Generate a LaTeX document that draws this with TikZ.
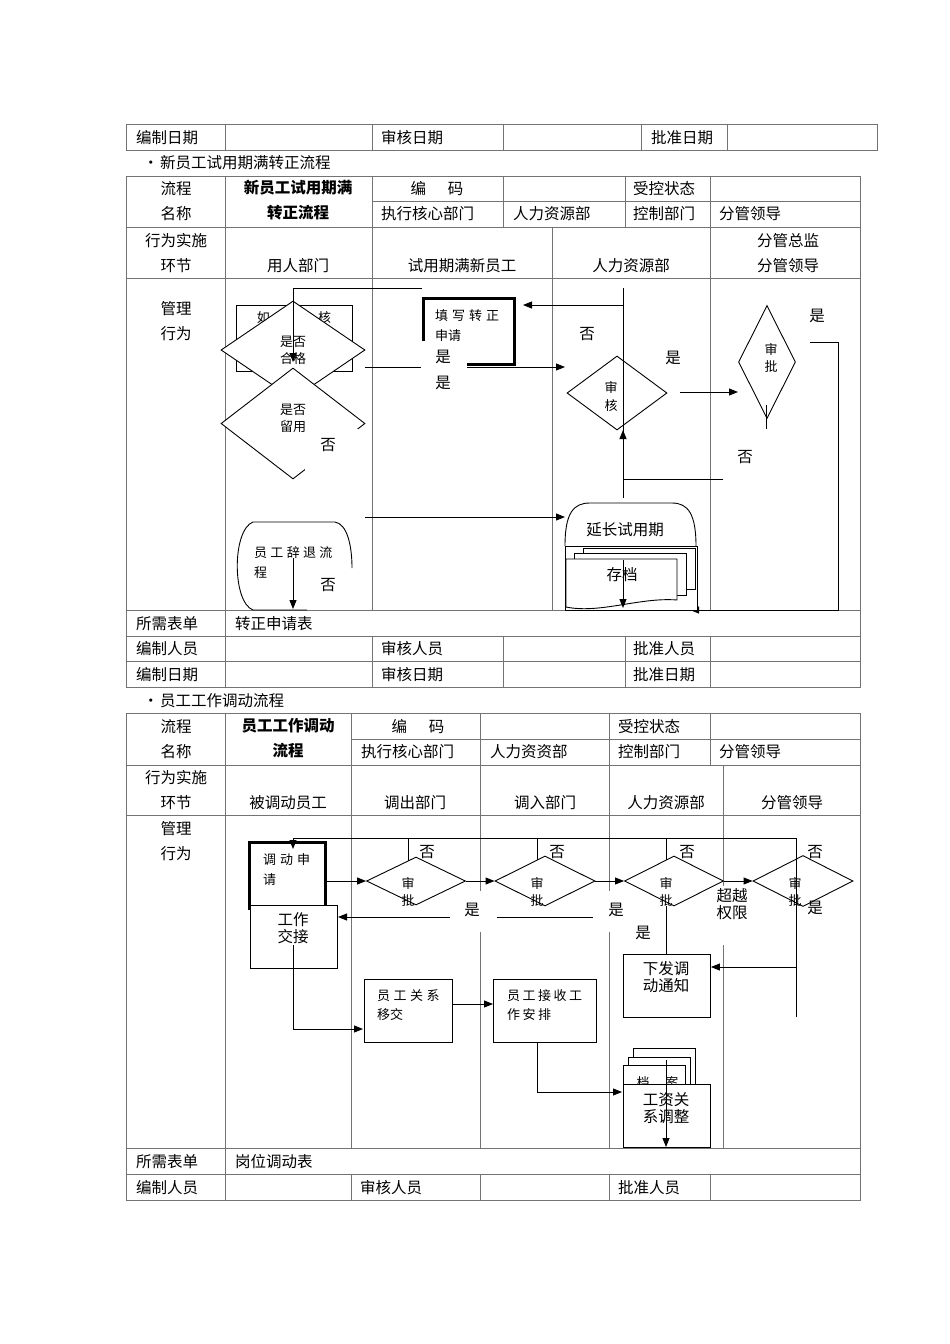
\documentclass[tikz,border=0pt]{standalone}
\usepackage{fontspec}
\setmainfont{Noto Sans CJK SC}
\usetikzlibrary{shapes.geometric,arrows.meta}
\newcommand{\gsp}{\hspace{4pt}}
\tikzset{
 tl/.style={draw=black!55, line width=0.9pt},
 fl/.style={draw=black, line width=0.9pt},
 ar/.style={fl, -{Triangle[length=9pt,width=7pt]}},
 tx/.style={font=\fontsize{15.5}{18}\selectfont, inner sep=0pt, align=center},
 txl/.style={tx, anchor=west},
 bt/.style={font=\fontsize{15.5}{25}\selectfont\bfseries, inner sep=0pt, align=center},
 sm/.style={font=\fontsize{13}{17}\selectfont, inner sep=0pt, align=center},
 sml/.style={sm, anchor=west},
 md/.style={font=\fontsize{15.5}{17}\selectfont, inner sep=0pt, align=center},
 dia/.style={diamond, draw, fill=white, line width=0.9pt, inner sep=0pt},
 box/.style={draw, fill=white, line width=0.9pt, inner sep=0pt, anchor=north west},
}
\begin{document}
\begin{tikzpicture}[x=1pt,y=-1pt]
\useasboundingbox[fill=white] (0,0) rectangle (950,1344);

% ---------- top table ----------
\draw[tl] (126,124) rectangle (877,150);
\foreach \x in {225,372,503,641,727} \draw[tl] (\x,124)--(\x,150);
\node[txl] (a1) at (136,137.5) {编制日期};
\node[txl] (a2) at (381,137.5) {审核日期};
\node[txl] (a3) at (651,137.5) {批准日期};

\node[txl] (b1) at (143,162.5) {•\hspace{1.5pt}新员工试用期满转正流程};

% ---------- table 1 ----------
\draw[tl] (126,176) rectangle (860,687);
\draw[tl] (372,201)--(860,201);
\foreach \y in {227,278,610,636,661} \draw[tl] (126,\y)--(860,\y);
\draw[tl] (225,176)--(225,687);
\foreach \x in {372,503,625,710} {\draw[tl] (\x,176)--(\x,227); \draw[tl] (\x,636)--(\x,687);}
\foreach \x in {372,552,710} \draw[tl] (\x,227)--(\x,610);

\node[tx] (h1) at (176,188.5) {流程};
\node[tx] (h2) at (176,213.5) {名称};
\node[bt] (h3) at (298,200.5) {新员工试用期满\\转正流程};
\node[tx] (h4) at (437,188.5) {编\hspace{22pt}码};
\node[txl] (h5) at (381,213.5) {执行核心部门};
\node[txl] (h6) at (513,213.5) {人力资源部};
\node[txl] (h7) at (633,188.5) {受控状态};
\node[txl] (h8) at (633,213.5) {控制部门};
\node[txl] (h9) at (719,213.5) {分管领导};
\node[tx] (r1) at (176,240.5) {行为实施};
\node[tx] (r2) at (176,265.5) {环节};
\node[tx] (r3) at (298,265.5) {用人部门};
\node[tx] (r4) at (462,265.5) {试用期满新员工};
\node[tx] (r5) at (631,265.5) {人力资源部};
\node[tx] (r6) at (788,240.5) {分管总监};
\node[tx] (r7) at (788,265.5) {分管领导};
\node[tx] (g1) at (176,308.5) {管理};
\node[tx] (g2) at (176,333.5) {行为};
\node[txl] (f1) at (136,623.5) {所需表单};
\node[txl] (f2) at (235,623.5) {转正申请表};
\node[txl] (f3) at (136,648.5) {编制人员};
\node[txl] (f4) at (381,648.5) {审核人员};
\node[txl] (f5) at (633,648.5) {批准人员};
\node[txl] (f6) at (136,674.5) {编制日期};
\node[txl] (f7) at (381,674.5) {审核日期};
\node[txl] (f8) at (633,674.5) {批准日期};

% ---------- flowchart 1 ----------
\node[box, minimum width=116, minimum height=66] (kh) at (236,305) {};
\node[sm] (khT) at (294,318) {如\hspace{7.5pt}期\hspace{7.5pt}考\hspace{7.5pt}核};
\node[dia, minimum width=144, minimum height=98] (d1) at (293,350) {};
\node[sm] (d1T) at (293,350) {是否\\合格};
\node[dia, minimum width=144, minimum height=111] (d2) at (293,423.5) {};
\node[sm] (d2T) at (293,418) {是否\\留用};
\coordinate (c1) at (422,288);
\draw[ar] (c1) -- (293,288) -- (293,362);

\node[draw, line width=3.2pt, minimum width=91, minimum height=66, inner sep=0pt, anchor=north west] (tz) at (421.5,297) {};
\node[sml] (tzT1) at (435,316) {填\gsp 写\gsp 转\gsp 正};
\node[sml] (tzT2) at (435,336) {申请};
\draw[ar] (365,367) -- (565,367);
\fill[white] (421,341) rectangle (467,375);
\node[md] (y1) at (443,357) {是};
\node[md] (y2) at (443,383) {是};

\node[dia, minimum width=100, minimum height=74] (sh) at (617,393) {};
\node[font=\fontsize{13}{18}\selectfont, inner sep=0pt, align=center] (shT) at (611,397) {审\\核};
\draw[fl] (623,288) -- (623,498);
\draw[ar] (623,305) -- (523,305);
\draw[ar] (723,479) -- (623,479) -- (623,430);
\draw[ar] (680,392) -- (738,392);
\node[dia, minimum width=57, minimum height=113] (sp) at (767,362) {};
\node[sm] (spT) at (771,358) {审\\批};
\draw[fl] (766,405) -- (766,429);
\draw[ar] (810,342) -- (838,342) -- (838,610) -- (690,610);
\node[md] (n1) at (587,334) {否};
\node[md] (y3) at (673,358) {是};
\node[md] (y4) at (817,316) {是};
\node[md] (n2) at (745,457) {否};

% extend probation
\draw[fl, fill=white] (565,546) .. controls (565,512) and (574,503) .. (590,503) -- (672,503) .. controls (688,503) and (696,514) .. (696,546);
\node[md] (yc) at (625,530) {延长试用期};
\draw[ar] (365,517) -- (565,517);
% archive stack
\draw[fl, fill=white] (565,546) rectangle (697,610);
\draw[fl, fill=white] (583,548) rectangle (695,589);
\draw[fl, fill=white] (574,553) rectangle (686,595);
\draw[fl, fill=white] (566,559) -- (677,559) -- (677,600) .. controls (640,597) and (600,614) .. (566,607) -- cycle;
\node[md] (cd) at (622,575) {存档};
\draw[ar] (623,560) -- (623,608);

% dismissal
\draw[fl] (307,610) -- (253,610) .. controls (232,602) and (232,530) .. (253,522) -- (335,522) .. controls (347,524) and (352,545) .. (352,568);
\node[sml] (ct1) at (254,553) {员\hspace{3.3pt}工\hspace{3.3pt}辞\hspace{3.3pt}退\hspace{3.3pt}流};
\node[sml] (ct2) at (254,573) {程};
\draw[ar] (293,558) -- (293,609);
\node[md] (n3) at (328,585) {否};
\fill[white] (305,429) rectangle (358,470);
\node[md] (n4) at (328,445) {否};

% ---------- bullet 2 ----------
\node[txl] (b2) at (143,700.5) {•\hspace{1.5pt}员工工作调动流程};

% ---------- table 2 ----------
\draw[tl] (126,713) rectangle (860,1200);
\draw[tl] (351,739)--(860,739);
\foreach \y in {765,815,1148,1174} \draw[tl] (126,\y)--(860,\y);
\draw[tl] (225,713)--(225,1200);
\foreach \x in {351,480,609,710} {\draw[tl] (\x,713)--(\x,765); \draw[tl] (\x,1174)--(\x,1200);}
\foreach \x in {351,480,609,723} \draw[tl] (\x,765)--(\x,1148);

\node[tx] (k1) at (176,726.5) {流程};
\node[tx] (k2) at (176,751.5) {名称};
\node[bt] (k3) at (288,738.5) {员工工作调动\\流程};
\node[tx] (k4) at (418,726.5) {编\hspace{22pt}码};
\node[txl] (k5) at (361,751.5) {执行核心部门};
\node[txl] (k6) at (490,751.5) {人力资资部};
\node[txl] (k7) at (618,726.5) {受控状态};
\node[txl] (k8) at (618,751.5) {控制部门};
\node[txl] (k9) at (719,751.5) {分管领导};
\node[tx] (s1) at (176,777.5) {行为实施};
\node[tx] (s2) at (176,802.5) {环节};
\node[tx] (s3) at (288,802.5) {被调动员工};
\node[tx] (s4) at (415,802.5) {调出部门};
\node[tx] (s5) at (545,802.5) {调入部门};
\node[tx] (s6) at (666,802.5) {人力资源部};
\node[tx] (s7) at (792,802.5) {分管领导};
\node[tx] (m1) at (176,828.5) {管理};
\node[tx] (m2) at (176,853.5) {行为};
\node[txl] (e1) at (136,1161.5) {所需表单};
\node[txl] (e2) at (235,1161.5) {岗位调动表};
\node[txl] (e3) at (136,1187.5) {编制人员};
\node[txl] (e4) at (360,1187.5) {审核人员};
\node[txl] (e5) at (618,1187.5) {批准人员};

% ---------- flowchart 2 ----------
\node[draw, line width=3pt, minimum width=76, minimum height=66, inner sep=0pt, anchor=north west] (dd) at (248,841) {};
\node[sml] (ddT1) at (263,860) {调\gsp 动\gsp 申};
\node[sml] (ddT2) at (263,880) {请};
\node[box, minimum width=87, minimum height=63] (gj) at (250,905) {};
\node[md] (gjT) at (293,928) {工作\\交接};

\node[dia, minimum width=99, minimum height=48] (D1) at (416,881) {};
\node[dia, minimum width=100, minimum height=50] (D2) at (545,881) {};
\node[dia, minimum width=99, minimum height=50] (D3) at (674,881) {};
\node[dia, minimum width=100, minimum height=51] (D4) at (803,881) {};
\node[sm] (D1T) at (408,892) {审\\批};
\node[sm] (D2T) at (537,892) {审\\批};
\node[sm] (D3T) at (666,892) {审\\批};
\node[sm] (D4T) at (795,892) {审\\批};

\draw[fl] (796,1017) -- (796,838) -- (293,838);
\draw[ar] (293,838) -- (293,849);
\draw[fl] (408,838) -- (408,861);
\draw[fl] (537,838) -- (537,860);
\draw[fl] (666,838) -- (666,860);
\draw[ar] (324,881) -- (D1.west);
\draw[ar] (D1.east) -- (D2.west);
\draw[ar] (D2.east) -- (D3.west);
\draw[ar] (D3.east) -- (D4.west);
\draw[ar] (450,917) -- (338,917);
\draw[fl] (497,917) -- (593,917);
\draw[fl] (666,906) -- (666,954);

\node[box, minimum width=87, minimum height=63] (xf) at (623,954) {};
\node[md] (xfT) at (666,977) {下发调\\动通知};
\draw[ar] (796,967) -- (xf.east |- 796,967);

\draw[ar] (293,945) -- (293,1029) -- (363,1029);
\node[box, minimum width=88, minimum height=63] (gx) at (364,979) {};
\node[sml] (gxT1) at (377,996) {员\hspace{3.5pt}工\hspace{3.5pt}关\hspace{3.5pt}系};
\node[sml] (gxT2) at (377,1015) {移交};
\draw[ar] (452,1004) -- (493,1004);
\node[box, minimum width=103, minimum height=63] (js) at (493,979) {};
\node[sml] (jsT1) at (507,996) {员\hspace{2.5pt}工\hspace{2.5pt}接\hspace{2.5pt}收\hspace{2.5pt}工};
\node[sml] (jsT2) at (507,1015) {作\hspace{2.5pt}安\hspace{2.5pt}排};
\draw[ar] (537,1042) -- (537,1092) -- (622,1092);

\draw[fl, fill=white] (633,1048) rectangle (695,1084);
\draw[fl, fill=white] (628,1057) rectangle (690,1084);
\draw[fl, fill=white] (623,1065) rectangle (685,1084);
\node[sm] (daT) at (657.5,1083) {档\hspace{16pt}案};
\node[box, minimum width=87, minimum height=63] (gz) at (623,1084) {};
\node[md] (gzT) at (666,1108) {工资关\\系调整};
\draw[ar] (666,1060) -- (666,1147);

% labels with white backgrounds
\fill[white] (450,891) rectangle (496,932);
\fill[white] (594,891) rectangle (638,932);
\fill[white] (716,886) rectangle (752,945);
\node[md] (q1) at (472,910) {是};
\node[md] (q2) at (616,910) {是};
\node[md] (q3) at (643,933) {是};
\node[md] (q4) at (815,908) {是};
\node[md] (q5) at (732,904) {超越\\权限};
\node[md] (o1) at (427,852) {否};
\node[md] (o2) at (557,852) {否};
\node[md] (o3) at (687,852) {否};
\node[md] (o4) at (815,852) {否};
\end{tikzpicture}
\end{document}
